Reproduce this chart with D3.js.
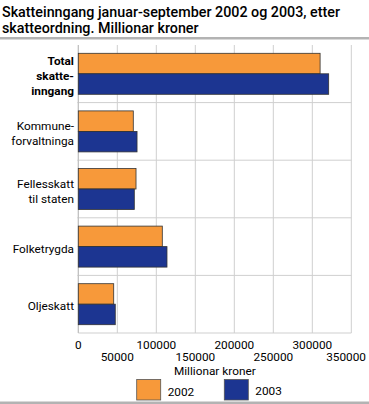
<!DOCTYPE html>
<html><head><meta charset="utf-8">
<script src="https://cdn.jsdelivr.net/npm/d3@7"></script>
<style>body{margin:0;background:#fff}svg{display:block}text{font-family:Roboto,"Open Sans",sans-serif;fill:#000}</style>
</head><body><svg id="c" width="369" height="404"></svg>
<script>
const categories = ["Total skatteinngang","Kommuneforvaltninga","Fellesskatt til staten","Folketrygda","Oljeskatt"];
const categoryLines = [["Total","skatte-","inngang"],["Kommune-","forvaltninga"],["Fellesskatt","til staten"],["Folketrygda"],["Oljeskatt"]];
const boldCategory = [true,false,false,false,false];
const seriesNames = ["2002","2003"];
const values2002 = [310000, 70500, 74000, 107700, 45400];
const values2003 = [321000, 75300, 71800, 113700, 47400];
const tickValues = [0,50000,100000,150000,200000,250000,300000,350000];
const titleLines = ["Skatteinngang januar-september 2002 og 2003, etter","skatteordning. Millionar kroner"];
const axisTitle = "Millionar kroner";
const colors = ["#f7993a","#1c3591"];

const svg = d3.select("#c");
const L = 78.3, R = 351.3, T = 45, B = 333;
const FS = 11.8;
const x = d3.scaleLinear().domain([0,350000]).range([L,R]);
const y = d3.scaleBand().domain(categories).range([T,B]);
const inner = d3.scaleBand().domain(seriesNames).range([0,41]);
const barOff = (y.bandwidth()-41)/2;

// title
svg.append("g").selectAll("text").data(titleLines).join("text")
  .attr("x",2).attr("y",(d,i)=>16.5+i*16.5).attr("font-size",14.3).attr("font-weight",500).text(d=>d);
svg.append("rect").attr("x",0).attr("y",37).attr("width",369).attr("height",2.5).attr("fill","#b3b3b3");
svg.append("rect").attr("x",0).attr("y",401.5).attr("width",369).attr("height",2.5).attr("fill","#b3b3b3");

// grid
svg.append("g").selectAll("line").data(tickValues).join("line")
  .attr("x1",d=>x(d)).attr("x2",d=>x(d)).attr("y1",T).attr("y2",B)
  .attr("stroke","#cfcfcf").attr("stroke-width",1);
svg.append("g").selectAll("line").data(categories.slice(1)).join("line")
  .attr("x1",L-1).attr("x2",R).attr("y1",d=>y(d)).attr("y2",d=>y(d))
  .attr("stroke","#cfcfcf").attr("stroke-width",1);
svg.append("line").attr("x1",L).attr("x2",R).attr("y1",B).attr("y2",B).attr("stroke","#cfcfcf");
svg.append("line").attr("x1",L).attr("x2",L).attr("y1",T).attr("y2",B).attr("stroke","#bdbdbd");

// bars
const data = categories.map((c,i)=>({c, v:[values2002[i],values2003[i]]}));
const g = svg.append("g");
seriesNames.forEach((s,si)=>{
  g.selectAll("rect.s"+si).data(data).join("rect").attr("class","s"+si)
    .attr("x",x(0)).attr("y",d=>y(d.c)+barOff+inner(s))
    .attr("width",d=>x(d.v[si])-x(0)).attr("height",inner.bandwidth())
    .attr("fill",colors[si]).attr("stroke","#333").attr("stroke-width",0.8);
});

// category labels
categories.forEach((c,i)=>{
  const lines = categoryLines[i];
  const cy = y(c)+y.bandwidth()/2;
  const lh = 15;
  const t = svg.append("text").attr("text-anchor","end").attr("font-size",FS)
    .attr("font-weight",boldCategory[i]?"bold":"normal");
  lines.forEach((ln,j)=>{
    t.append("tspan").attr("x",74).attr("y",cy+(j-(lines.length-1)/2)*lh+6).text(ln);
  });
});

// tick labels (keep last one inside the picture)
svg.append("g").selectAll("text").data(tickValues).join("text")
  .attr("y",(d,i)=>i%2===0?349:360.5)
  .attr("text-anchor","middle").attr("font-size",FS).text(d=>d)
  .each(function(d){
    const w = this.getComputedTextLength();
    let cx = x(d);
    if (cx + w/2 > 366) cx = 366 - w/2;
    d3.select(this).attr("x",cx);
  });
svg.append("text").attr("x",(L+R)/2).attr("y",375).attr("text-anchor","middle").attr("font-size",FS).text(axisTitle);

// legend
const lx = [136.7, 224.3];
seriesNames.forEach((s,i)=>{
  svg.append("rect").attr("x",lx[i]).attr("y",379.5).attr("width",24).attr("height",20.5)
    .attr("fill",colors[i]).attr("stroke","#555").attr("stroke-width",0.8);
  svg.append("text").attr("x",lx[i]+31).attr("y",i===0?396:395).attr("font-size",FS).text(s);
});
</script></body></html>
